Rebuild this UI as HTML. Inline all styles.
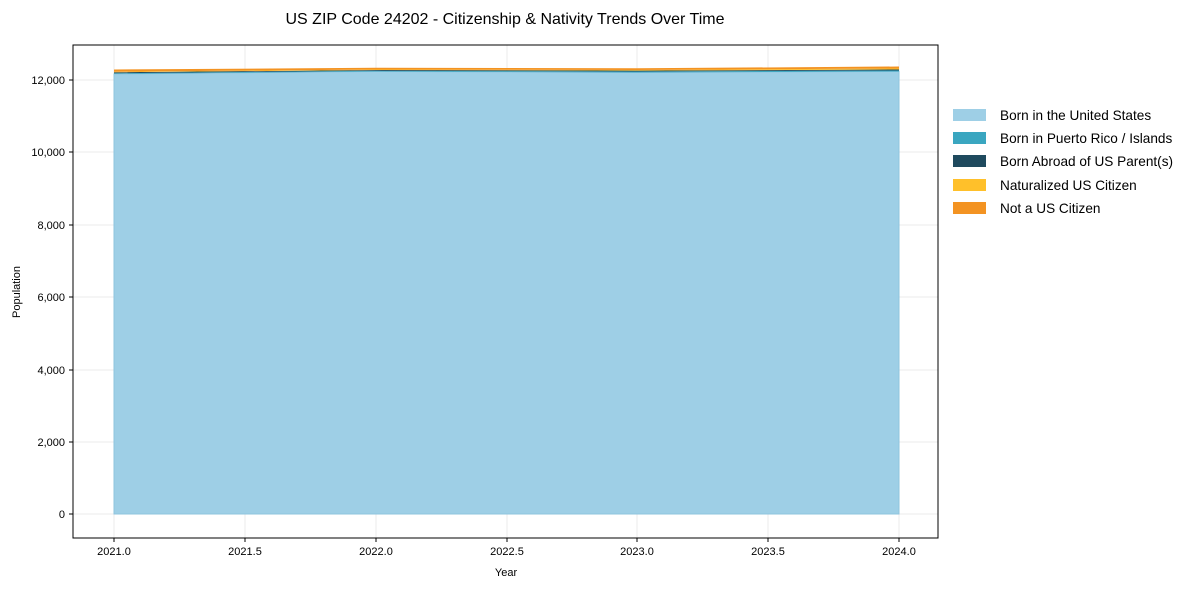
<!DOCTYPE html>
<html><head><meta charset="utf-8"><style>
body{margin:0;background:#fff;}
svg text{font-family:"Liberation Sans",Arial,sans-serif;fill:#000;}
</style></head><body>
<svg width="1189" height="590" viewBox="0 0 1189 590" xmlns="http://www.w3.org/2000/svg">
<text x="505" y="24" font-size="16" text-anchor="middle">US ZIP Code 24202 - Citizenship &amp; Nativity Trends Over Time</text>
<g stroke="#ebebeb" stroke-width="1">
<line x1="114" y1="45" x2="114" y2="538"/><line x1="245" y1="45" x2="245" y2="538"/><line x1="376" y1="45" x2="376" y2="538"/><line x1="507" y1="45" x2="507" y2="538"/><line x1="637" y1="45" x2="637" y2="538"/><line x1="768" y1="45" x2="768" y2="538"/><line x1="899" y1="45" x2="899" y2="538"/>
<line x1="73" y1="514" x2="938" y2="514"/><line x1="73" y1="442" x2="938" y2="442"/><line x1="73" y1="370" x2="938" y2="370"/><line x1="73" y1="297" x2="938" y2="297"/><line x1="73" y1="225" x2="938" y2="225"/><line x1="73" y1="152" x2="938" y2="152"/><line x1="73" y1="80" x2="938" y2="80"/>
</g>
<polygon points="114,514 114,74 376,71.5 637,72.5 899,71.5 899,514" fill="#9ecfe6" stroke="#8fc4de"/>
<polygon points="114,74 376,71.5 637,72.5 899,71.5 899,70.5 637,71.5 376,70.8 114,73.2" fill="#3aa6c0"/>
<polygon points="114,73.2 376,70.8 637,71.5 899,70.5 899,69.5 637,70.6 376,70 114,72.3" fill="#1f4a5e"/>
<polygon points="114,72.3 376,70 637,70.6 899,69.5 899,68.5 637,70 376,69.5 114,71.8" fill="#ffc02a"/>
<polygon points="114,71.8 376,69.5 637,70 899,68.5 899,66.5 637,68.3 376,67.8 114,69.5" fill="#f39322"/>
<rect x="73" y="45" width="865" height="493" fill="none" stroke="#000" stroke-width="1"/>
<g stroke="#000"><line x1="69" y1="514" x2="73" y2="514"/><line x1="69" y1="442" x2="73" y2="442"/><line x1="69" y1="370" x2="73" y2="370"/><line x1="69" y1="297" x2="73" y2="297"/><line x1="69" y1="225" x2="73" y2="225"/><line x1="69" y1="152" x2="73" y2="152"/><line x1="69" y1="80" x2="73" y2="80"/>
<line x1="114" y1="538" x2="114" y2="542"/><line x1="245" y1="538" x2="245" y2="542"/><line x1="376" y1="538" x2="376" y2="542"/><line x1="507" y1="538" x2="507" y2="542"/><line x1="637" y1="538" x2="637" y2="542"/><line x1="768" y1="538" x2="768" y2="542"/><line x1="899" y1="538" x2="899" y2="542"/></g>
<g font-size="11" text-anchor="end"><text x="65" y="518">0</text><text x="65" y="446">2,000</text><text x="65" y="374">4,000</text><text x="65" y="301">6,000</text><text x="65" y="229">8,000</text><text x="65" y="156">10,000</text><text x="65" y="84">12,000</text></g>
<g font-size="11" text-anchor="middle"><text x="114" y="555">2021.0</text><text x="245" y="555">2021.5</text><text x="376" y="555">2022.0</text><text x="507" y="555">2022.5</text><text x="637" y="555">2023.0</text><text x="768" y="555">2023.5</text><text x="899" y="555">2024.0</text>
<text x="506" y="576">Year</text></g>
<text x="20" y="292" font-size="11" text-anchor="middle" transform="rotate(-90 20 292)">Population</text>
<g font-size="13.6">
<rect x="953" y="109" width="33" height="12" fill="#9ecfe6"/><text x="1000" y="120">Born in the United States</text>
<rect x="953" y="132" width="33" height="12" fill="#3aa6c0"/><text x="1000" y="143">Born in Puerto Rico / Islands</text>
<rect x="953" y="155" width="33" height="12" fill="#1f4a5e"/><text x="1000" y="166">Born Abroad of US Parent(s)</text>
<rect x="953" y="179" width="33" height="12" fill="#ffc02a"/><text x="1000" y="190">Naturalized US Citizen</text>
<rect x="953" y="202" width="33" height="12" fill="#f39322"/><text x="1000" y="213">Not a US Citizen</text>
</g>
</svg>
</body></html>
